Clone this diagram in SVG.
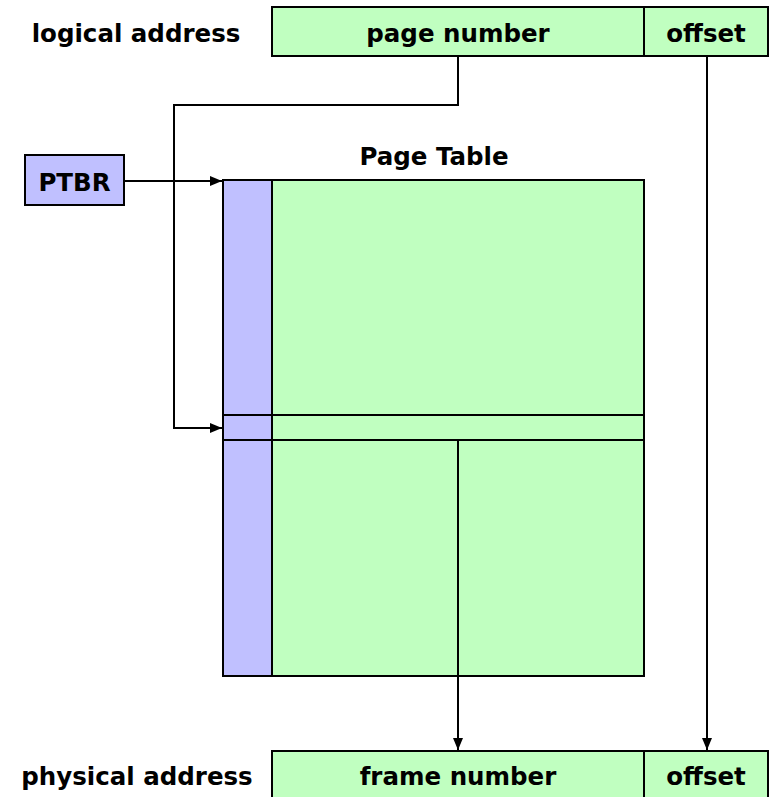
<svg xmlns="http://www.w3.org/2000/svg" width="769" height="797" viewBox="0 0 769 797">
  <style>
    .lbl { font-family: "DejaVu Sans", Verdana, sans-serif; font-weight: bold; font-size: 24.5px; fill: #000; }
    .green { fill: #c0ffc0; stroke: #000; stroke-width: 2; }
    .blue { fill: #c0c0ff; stroke: #000; stroke-width: 2; }
    .line { fill: none; stroke: #000; stroke-width: 2; }
    .wire { fill: none; stroke: #000; stroke-width: 2; }
  </style>
  <defs>
    <marker id="arrow" markerWidth="12" markerHeight="10" refX="12" refY="5" orient="auto" markerUnits="userSpaceOnUse">
      <path d="M0,0 L12,5 L0,10 Z" fill="#000"/>
    </marker>
  </defs>
  <rect width="769" height="797" fill="#fff"/>

  <g id="logical-address">
    <text class="lbl" x="136" y="42" text-anchor="middle">logical address</text>
    <rect class="green" x="272" y="7" width="372" height="49"/>
    <rect class="green" x="644" y="7" width="124" height="49"/>
    <text class="lbl" x="458" y="42" text-anchor="middle">page number</text>
    <text class="lbl" x="706" y="42" text-anchor="middle">offset</text>
  </g>

  <g id="ptbr">
    <rect class="blue" x="25" y="155" width="99" height="50"/>
    <text class="lbl" x="74.5" y="191" text-anchor="middle">PTBR</text>
  </g>

  <g id="page-table">
    <text class="lbl" x="434" y="165" text-anchor="middle">Page Table</text>
    <rect class="green" x="223" y="180" width="421" height="496"/>
    <rect class="blue" x="223" y="180" width="49" height="496"/>
    <line class="line" x1="223" y1="415" x2="644" y2="415"/>
    <line class="line" x1="223" y1="440" x2="644" y2="440"/>
  </g>

  <g id="physical-address">
    <text class="lbl" x="137" y="785" text-anchor="middle">physical address</text>
    <rect class="green" x="272" y="751" width="372" height="50"/>
    <rect class="green" x="644" y="751" width="124" height="50"/>
    <text class="lbl" x="458" y="785" text-anchor="middle">frame number</text>
    <text class="lbl" x="706" y="785" text-anchor="middle">offset</text>
  </g>

  <g id="connectors">
    <polyline class="wire" points="458,56 458,105 174,105 174,428 222,428" marker-end="url(#arrow)"/>
    <line class="wire" x1="124" y1="181" x2="222" y2="181" marker-end="url(#arrow)"/>
    <line class="wire" x1="458" y1="440" x2="458" y2="750" marker-end="url(#arrow)"/>
    <line class="wire" x1="707" y1="56" x2="707" y2="750" marker-end="url(#arrow)"/>
  </g>
</svg>
